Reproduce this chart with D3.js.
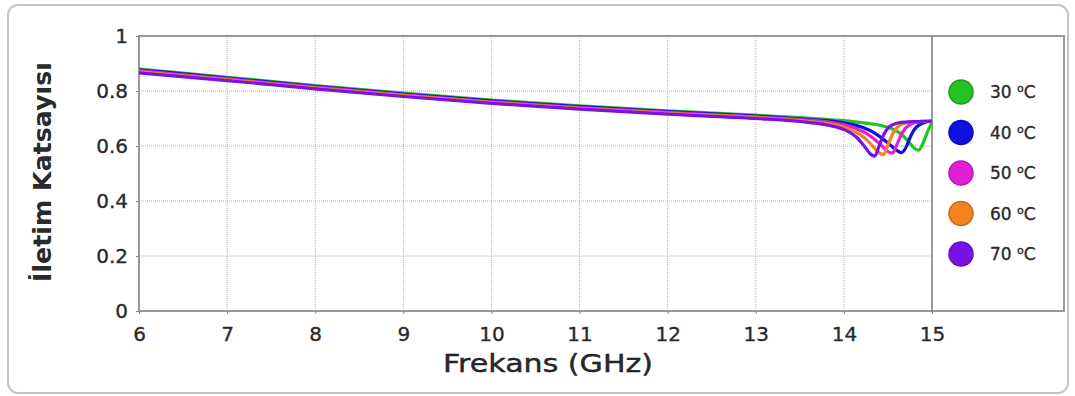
<!DOCTYPE html>
<html>
<head>
<meta charset="utf-8">
<script src="https://cdn.jsdelivr.net/npm/d3@7"></script>
<style>
  html, body { margin: 0; padding: 0; background: #fff; }
  svg text { font-family: "DejaVu Sans", Verdana, sans-serif; fill: #2a2a2a; }
</style>
</head>
<body>
<svg id="chart" width="1075" height="396"></svg>
<script>
// Frequency grid (GHz) shared by every temperature curve
const freqGHz = [6, 7, 8, 9, 10, 11, 12, 13, 13.5, 13.8, 14.0,
  14.1, 14.15, 14.2, 14.25, 14.3, 14.35, 14.4, 14.45, 14.5, 14.55,
  14.6, 14.65, 14.7, 14.75, 14.8, 14.85, 14.9, 14.95, 15.0];

// Transmission coefficient for each temperature
const t30 = [0.880, 0.850, 0.820, 0.792, 0.767, 0.746, 0.728, 0.712, 0.703, 0.697, 0.692,
  0.689, 0.687, 0.685, 0.683, 0.681, 0.679, 0.676, 0.672, 0.668, 0.662,
  0.654, 0.643, 0.628, 0.610, 0.592, 0.585, 0.612, 0.652, 0.686];
const t40 = [0.877, 0.847, 0.817, 0.789, 0.764, 0.743, 0.725, 0.709, 0.699, 0.692, 0.684,
  0.678, 0.674, 0.669, 0.663, 0.656, 0.647, 0.636, 0.624, 0.611, 0.597,
  0.584, 0.576, 0.592, 0.630, 0.660, 0.676, 0.684, 0.688, 0.690];
const t50 = [0.874, 0.844, 0.814, 0.786, 0.761, 0.740, 0.722, 0.706, 0.696, 0.688, 0.677,
  0.668, 0.662, 0.655, 0.647, 0.636, 0.624, 0.610, 0.594, 0.580, 0.574,
  0.604, 0.641, 0.665, 0.678, 0.685, 0.688, 0.689, 0.690, 0.691];
const t60 = [0.870, 0.841, 0.811, 0.783, 0.758, 0.737, 0.719, 0.703, 0.692, 0.682, 0.669,
  0.656, 0.648, 0.638, 0.625, 0.609, 0.591, 0.575, 0.569, 0.604, 0.642,
  0.666, 0.678, 0.684, 0.687, 0.688, 0.689, 0.690, 0.690, 0.691];
const t70 = [0.866, 0.838, 0.808, 0.780, 0.755, 0.734, 0.716, 0.700, 0.689, 0.677, 0.660,
  0.643, 0.630, 0.612, 0.592, 0.571, 0.563, 0.600, 0.640, 0.665, 0.677,
  0.683, 0.686, 0.687, 0.688, 0.689, 0.689, 0.690, 0.690, 0.691];

const seriesLabels = ["30", "40", "50", "60", "70"];
const seriesColors = ["#22c322", "#1010e0", "#e020d6", "#f58220", "#7a12e8"];
const seriesValues = [t30, t40, t50, t60, t70];

const xTicks = [6, 7, 8, 9, 10, 11, 12, 13, 14, 15];
const yTicks = [0, 0.2, 0.4, 0.6, 0.8, 1];

const svg = d3.select("#chart");

// outer rounded panel
svg.append("rect")
  .attr("x", 8).attr("y", 5).attr("width", 1060).attr("height", 388)
  .attr("rx", 10).attr("fill", "#fff")
  .attr("stroke", "#c4c4c4").attr("stroke-width", 2);

const plotLeft = 139, plotRight = 932, frameRight = 1064;
const plotTop = 36, plotBottom = 311;

const x = d3.scaleLinear().domain([6, 15]).range([plotLeft, plotRight]);
const y = d3.scaleLinear().domain([0, 1]).range([plotBottom, plotTop]);

// grid lines
const grid = svg.append("g");
grid.selectAll("line.gx")
  .data(xTicks.filter(d => d > 6 && d < 15))
  .join("line")
  .attr("x1", d => x(d)).attr("x2", d => x(d))
  .attr("y1", plotTop).attr("y2", plotBottom)
  .attr("stroke", "#b0b0b0").attr("stroke-width", 1)
  .attr("stroke-dasharray", "1,1");
grid.selectAll("line.gy")
  .data(yTicks.filter(d => d > 0 && d < 1))
  .join("line")
  .attr("x1", plotLeft).attr("x2", plotRight)
  .attr("y1", d => y(d)).attr("y2", d => y(d))
  .attr("stroke", "#b0b0b0").attr("stroke-width", 1)
  .attr("stroke-dasharray", "1,1");

// frame: plot box extended to hold the legend
svg.append("rect")
  .attr("x", plotLeft).attr("y", plotTop)
  .attr("width", frameRight - plotLeft).attr("height", plotBottom - plotTop)
  .attr("fill", "none").attr("stroke", "#999").attr("stroke-width", 2);
svg.append("line")
  .attr("x1", x(15)).attr("x2", x(15))
  .attr("y1", plotTop).attr("y2", plotBottom)
  .attr("stroke", "#7a7a7a").attr("stroke-width", 1.5);

const textStyle = sel => sel
  .attr("fill", "#2a2a2a")
  .attr("stroke", "#2a2a2a").attr("stroke-width", 0.35)
  .style("font-family", "'DejaVu Sans', Verdana, sans-serif");

// axes
const xAxis = d3.axisBottom(x).tickValues(xTicks).tickFormat(d3.format("d"))
  .tickSize(3).tickPadding(13);
const gx = svg.append("g").attr("transform", `translate(0,${plotBottom})`).call(xAxis);
gx.select(".domain").remove();
gx.selectAll(".tick line").attr("stroke", "#888");
gx.selectAll(".tick text").attr("font-size", 20).call(textStyle);

const yAxis = d3.axisLeft(y).tickValues(yTicks).tickFormat(d => d === 0 || d === 1 ? String(d) : d3.format(".1f")(d))
  .tickSize(3).tickPadding(8);
const gy = svg.append("g").attr("transform", `translate(${plotLeft},0)`).call(yAxis);
gy.select(".domain").remove();
gy.selectAll(".tick line").attr("stroke", "#888");
gy.selectAll(".tick text").attr("font-size", 20).call(textStyle);

// curves
const line = d3.line()
  .x((d, i) => x(freqGHz[i]))
  .y(d => y(d))
  .curve(d3.curveMonotoneX);

svg.append("g").selectAll("path")
  .data(seriesValues)
  .join("path")
  .attr("d", d => line(d))
  .attr("fill", "none")
  .attr("stroke", (d, i) => seriesColors[i])
  .attr("stroke-width", 3.2)
  .attr("stroke-linejoin", "round");

// legend
const legend = svg.append("g");
const legY = i => 92 + i * 40.5;
legend.selectAll("circle")
  .data(seriesLabels)
  .join("circle")
  .attr("cx", 961).attr("cy", (d, i) => legY(i))
  .attr("r", 12)
  .attr("fill", (d, i) => seriesColors[i])
  .attr("stroke", (d, i) => d3.color(seriesColors[i]).darker(0.6))
  .attr("stroke-width", 1.5);
const lt = legend.selectAll("text")
  .data(seriesLabels)
  .join("text")
  .attr("x", 990).attr("y", (d, i) => legY(i))
  .attr("dy", "0.36em")
  .attr("font-size", 17)
  .call(textStyle);
lt.append("tspan").text(d => d + " ");
lt.append("tspan").attr("font-size", 11).attr("dy", "-0.55em").text("o");
lt.append("tspan").attr("dy", "0.37em").text("C");

// axis titles
svg.append("text")
  .attr("x", 548).attr("y", 372)
  .attr("text-anchor", "middle")
  .attr("font-size", 25)
  .attr("fill", "#111").attr("stroke", "#111").attr("stroke-width", 0.4)
  .attr("textLength", 210).attr("lengthAdjust", "spacingAndGlyphs")
  .text("Frekans (GHz)");

svg.append("text")
  .attr("transform", "translate(51,172) rotate(-90)")
  .attr("text-anchor", "middle")
  .attr("font-size", 24).attr("font-weight", "bold")
  .attr("fill", "#111")
  .attr("textLength", 220).attr("lengthAdjust", "spacingAndGlyphs")
  .text("İletim Katsayısı");
</script>
</body>
</html>
